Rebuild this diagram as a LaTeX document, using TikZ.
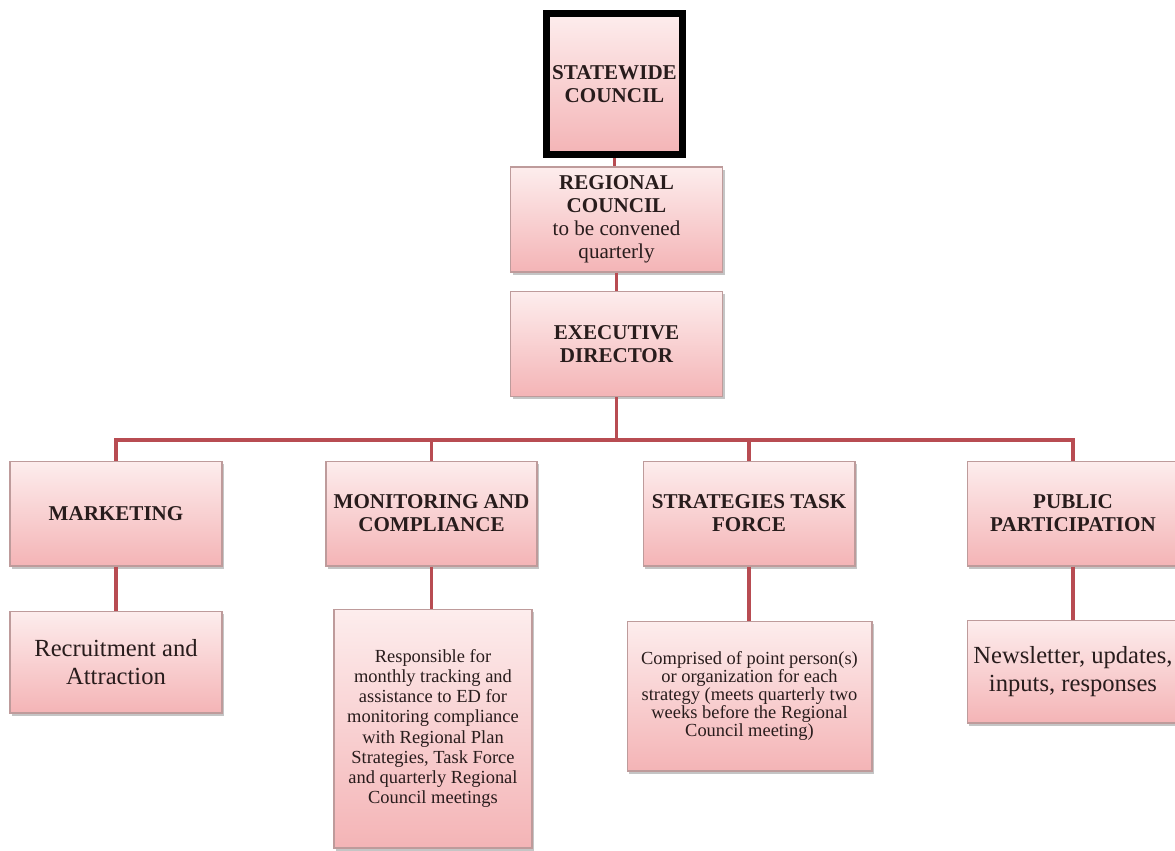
\documentclass[tikz,border=0pt]{standalone}
\usepackage{fontspec}
\setmainfont{Liberation Serif}
\usetikzlibrary{positioning,calc,shadows}
\definecolor{boxtop}{RGB}{253,237,237}
\definecolor{boxbottom}{RGB}{244,180,182}
\definecolor{boxline}{RGB}{190,155,155}
\definecolor{linkred}{RGB}{184,76,82}
\definecolor{textdark}{RGB}{40,28,28}
\tikzset{
    orgbox/.style = {
        draw=boxline,
        shape=rectangle,
        top color=boxtop,
        bottom color=boxbottom,
        line width=0.6pt,
        text=textdark,
        align=center,
        inner sep=2pt,
        drop shadow={shadow xshift=1.2pt, shadow yshift=-1.5pt, fill=black!45, opacity=0.5}
    },
    unit/.style = {
        orgbox,
        minimum width=4.24cm,
        minimum height=2.1cm,
        font=\fontsize{12}{13}\selectfont\bfseries
    },
    council/.style = {
        orgbox,
        draw=black,
        line width=4pt,
        minimum width=2.72cm,
        minimum height=2.82cm,
        drop shadow={opacity=0},
        font=\fontsize{12}{13}\selectfont\bfseries
    },
    duty/.style = {
        orgbox,
        font=\fontsize{14}{16}\selectfont
    },
    note/.style = {
        orgbox,
        font=\fontsize{10.5}{11.5}\selectfont
    },
    link/.style = {
        draw=linkred,
        line width=2pt
    }
}

\begin{document}
\begin{tikzpicture}[x=0.02cm,y=-0.02cm]
            \useasboundingbox (0,0) rectangle (1175,850);

            \node[council] (statewide) at (614.5,84) {STATEWIDE\\COUNCIL};
            \node[unit, font=\fontsize{12}{13}\selectfont] (regional) at (616.5,219.5) {\textbf{REGIONAL}\\\textbf{COUNCIL}\\to be convened\\quarterly};
            \node[unit] (executive) at (616.5,344) {EXECUTIVE\\DIRECTOR};

            \node[unit] (marketing) at (116,513.5) {MARKETING};
            \node[unit, minimum width=4.22cm] (monitoring) at (431.5,513.5) {MONITORING AND\\COMPLIANCE};
            \node[unit] (strategies) at (749,513.5) {STRATEGIES TASK\\FORCE};
            \node[unit] (public) at (1073,513.5) {PUBLIC\\PARTICIPATION};

            \node[duty, minimum width=4.24cm, minimum height=2.04cm] (recruitment) at (116,662) {Recruitment and\\Attraction};
            \node[note, minimum width=3.96cm, minimum height=4.78cm] (responsible) at (433,728.5) {Responsible for\\monthly tracking and\\assistance to ED for\\monitoring compliance\\with Regional Plan\\Strategies, Task Force\\and quarterly Regional\\Council meetings};
            \node[note, font=\fontsize{10.5}{10.2}\selectfont, minimum width=4.9cm, minimum height=3cm] (comprised) at (749.5,696) {Comprised of point person(s)\\or organization for each\\strategy (meets quarterly two\\weeks before the Regional\\Council meeting)};
            \node[duty, minimum width=4.24cm, minimum height=2.06cm] (newsletter) at (1073,671.5) {Newsletter, updates,\\inputs, responses};

            \coordinate (bus) at (616.5,440);

            \path[link] (statewide.south) -- (statewide.south |- regional.north);
            \path[link] (regional.south) -- (executive.north);
            \path[link] (executive.south) -- (bus);
            \path[link] (marketing.north) |- (bus) -| (public.north);
            \path[link] (monitoring.north) -- (monitoring.north |- bus);
            \path[link] (strategies.north) -- (strategies.north |- bus);

            \path[link] (marketing.south) -- (recruitment.north);
            \path[link] (monitoring.south) -- (monitoring.south |- responsible.north);
            \path[link] (strategies.south) -- (strategies.south |- comprised.north);
            \path[link] (public.south) -- (newsletter.north);

        \end{tikzpicture}
\end{document}
